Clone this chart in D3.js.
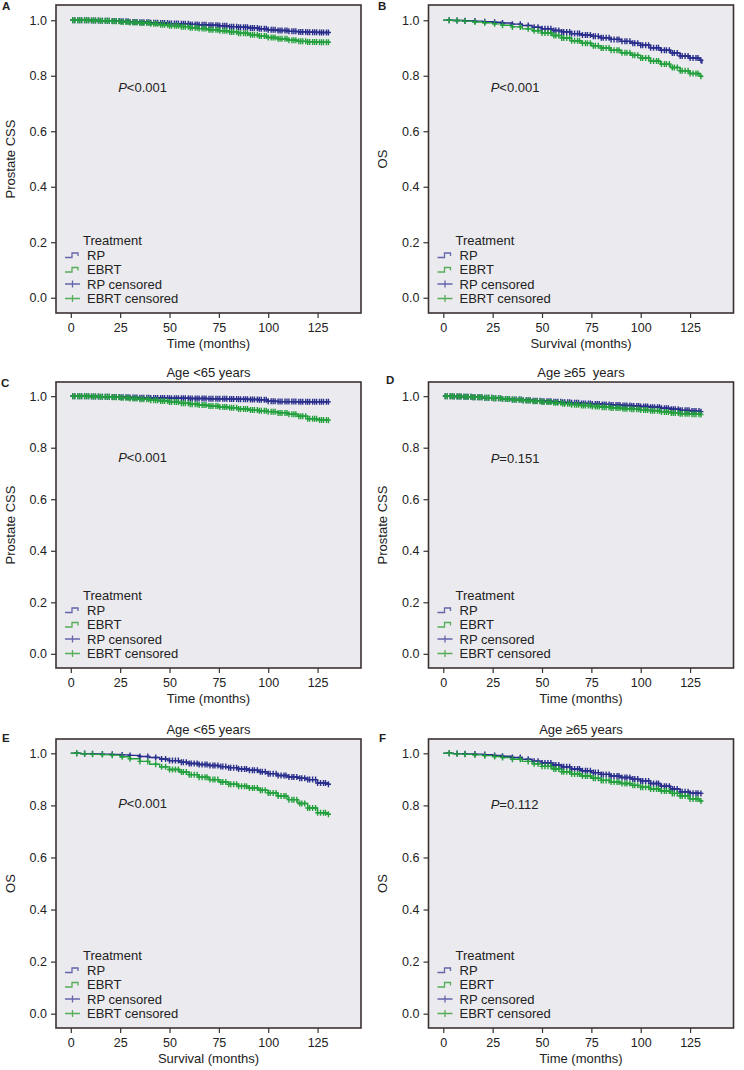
<!DOCTYPE html>
<html><head><meta charset="utf-8">
<script src="https://cdn.jsdelivr.net/npm/d3@7"></script>
<style>body{margin:0;background:#fff} text{font-family:"Liberation Sans", Arial, sans-serif;fill:#222}</style>
</head><body><svg id="c" width="744" height="1070"></svg>
<script>
// ---------------- data ----------------
const months = [0,5,10,15,20,25,30,35,40,45,50,55,60,65,70,75,80,85,90,95,100,105,110,115,120,125,130,131];

const rpA   = [1.000,1.000,0.999,0.998,0.997,0.996,0.994,0.993,0.991,0.990,0.988,0.987,0.985,0.984,0.982,0.980,0.977,0.975,0.972,0.969,0.966,0.963,0.960,0.958,0.957,0.956,0.956,0.955];
const ebrtA = [1.000,1.000,0.999,0.998,0.996,0.994,0.992,0.990,0.987,0.984,0.980,0.977,0.973,0.970,0.966,0.962,0.958,0.953,0.948,0.943,0.938,0.933,0.928,0.924,0.922,0.921,0.921,0.920];
const rpB   = [1.000,0.999,0.998,0.997,0.995,0.993,0.990,0.986,0.981,0.975,0.969,0.963,0.958,0.952,0.947,0.942,0.937,0.931,0.924,0.917,0.910,0.901,0.892,0.882,0.871,0.864,0.856,0.843];
const ebrtB = [1.000,0.999,0.997,0.994,0.991,0.987,0.982,0.976,0.969,0.962,0.954,0.945,0.936,0.926,0.917,0.908,0.900,0.892,0.883,0.874,0.864,0.853,0.842,0.830,0.818,0.808,0.798,0.795];
const rpC   = [1.000,1.000,0.999,0.998,0.997,0.996,0.995,0.994,0.993,0.993,0.992,0.992,0.991,0.991,0.990,0.990,0.989,0.988,0.987,0.986,0.980,0.979,0.979,0.978,0.978,0.978,0.978,0.978];
const ebrtC = [1.000,1.000,0.999,0.998,0.996,0.994,0.991,0.988,0.984,0.981,0.977,0.973,0.969,0.966,0.962,0.958,0.955,0.950,0.946,0.943,0.940,0.935,0.930,0.922,0.912,0.908,0.907,0.907];
const rpD   = [1.000,0.999,0.998,0.996,0.994,0.992,0.989,0.987,0.984,0.982,0.980,0.978,0.976,0.974,0.972,0.970,0.968,0.966,0.964,0.962,0.960,0.957,0.953,0.949,0.945,0.942,0.940,0.940];
const ebrtD = [1.000,0.999,0.998,0.996,0.994,0.992,0.989,0.986,0.983,0.980,0.977,0.974,0.971,0.967,0.964,0.960,0.957,0.954,0.951,0.949,0.946,0.943,0.939,0.935,0.932,0.930,0.929,0.928];
const rpE   = [1.000,0.999,0.998,0.997,0.996,0.994,0.992,0.988,0.984,0.978,0.972,0.966,0.961,0.957,0.953,0.949,0.945,0.940,0.935,0.929,0.922,0.915,0.909,0.904,0.899,0.886,0.881,0.880];
const ebrtE = [1.000,0.998,0.996,0.995,0.993,0.987,0.979,0.969,0.958,0.948,0.938,0.928,0.918,0.908,0.899,0.890,0.881,0.874,0.867,0.858,0.848,0.836,0.822,0.807,0.790,0.772,0.766,0.765];
const rpF   = [1.000,0.999,0.998,0.997,0.995,0.992,0.989,0.984,0.977,0.970,0.963,0.955,0.948,0.940,0.933,0.926,0.919,0.913,0.907,0.901,0.894,0.884,0.874,0.863,0.852,0.847,0.846,0.845];
const ebrtF = [1.000,0.998,0.996,0.994,0.991,0.988,0.984,0.977,0.969,0.960,0.950,0.940,0.929,0.921,0.913,0.904,0.896,0.890,0.884,0.877,0.870,0.863,0.855,0.846,0.836,0.825,0.817,0.815];

// censoring times (months)
const censorDense  = [1,2,3.5,4.5,5.5,7,8,9,10.5,11.5,12.5,14,15,16,17.5,18.5,19.5,21,22,23,24.5,25.5,26.5,28,29,30,31.5,32.5,33.5,35,36,37,38.5,39.5,40.5,42,43,44,45.5,46.5,47.5,49,50,51,52.5,53.5,54.5,56,57,58,59.5,60.5,61.5,63,64,65,66.5,67.5,68.5,70,71,72,73.5,74.5,75.5,77,78,79,80.5,81.5,82.5,84,85,86,87.5,88.5,89.5,91,92,93,94.5,95.5,96.5,98,99,100,101.5,102.5,103.5,105,106,107,108.5,109.5,110.5,112,113,114,115.5,116.5,117.5,119,120,121,122.5,123.5,124.5,126,127,128,129.5,130.5];
const censorSparse = [3,7,11,16,21,26,30,35,39,43,46,48,50,51.5,53,54.5,56,57,58.5,60,61,62.5,64,65,66.5,68,69,70.5,72,73,74.5,76,77,78.5,80,81,82.5,84,85,86.5,88,89,90.5,92,93,94.5,96,97,98.5,100,101,102.5,104,105,106.5,108,109,110.5,112,113,114.5,116,117,118.5,120,121,122.5,124,125,126.5,128,129,130.5];

const xTicks = [0,25,50,75,100,125];
const yTicks = [0,0.2,0.4,0.6,0.8,1.0];
const legendTitle = "Treatment";
const legendLabels = ["RP","EBRT","RP censored","EBRT censored"];
const panelLetters = ["A","B","C","D","E","F"];
const panelTitles = ["","","Age <65 years","Age \u226565\u00a0 years","Age <65 years","Age \u226565 years"];
const yTitles = ["Prostate CSS","OS","Prostate CSS","Prostate CSS","OS","OS"];
const xTitles = ["Time (months)","Survival (months)","Time (months)","Time (months)","Survival (months)","Time (months)"];
const pLabels = ["<0.001","<0.001","<0.001","=0.151","<0.001","=0.112"];
const pY = [0.74,0.74,0.745,0.74,0.79,0.785];
const pX = 24;
const rpSeries = [rpA,rpB,rpC,rpD,rpE,rpF];
const ebrtSeries = [ebrtA,ebrtB,ebrtC,ebrtD,ebrtE,ebrtF];
const censorSets = [censorDense,censorSparse,censorDense,censorDense,censorSparse,censorSparse];

// ---------------- layout ----------------
const cols = [{l:56,r:361},{l:428.5,r:733.5}];
const rows = [{t:5,b:313},{t:382,b:668},{t:739,b:1028}];
const letterPos = [[2,10],[378,10],[1,387],[386,384],[2,742],[379,742]];
const blue = "#2a2e8c", green = "#22a03c";
const blueLeg = "#6466ac", greenLeg = "#55ad58";

const svg = d3.select("#c");

for (let i=0;i<6;i++){
  const c = cols[i%2], r = rows[Math.floor(i/2)];
  const x = d3.scaleLinear().domain([-7.5,147]).range([c.l,c.r]);
  const y = d3.scaleLinear().domain([-0.055,1.055]).range([r.b,r.t]);
  const g = svg.append("g");

  g.append("rect").attr("x",c.l).attr("y",r.t).attr("width",c.r-c.l).attr("height",r.b-r.t)
    .attr("fill","#ebeaee");

  // axes
  const ya = g.append("g").attr("transform",`translate(${c.l},0)`)
    .call(d3.axisLeft(y).tickValues(yTicks).tickFormat(d3.format(".1f")).tickSize(5).tickPadding(4));
  const xa = g.append("g").attr("transform",`translate(0,${r.b})`)
    .call(d3.axisBottom(x).tickValues(xTicks).tickSize(5).tickPadding(5));
  [ya,xa].forEach(a=>{
    a.select(".domain").remove();
    a.selectAll("line").attr("stroke","#333").attr("stroke-width",1.2);
    a.selectAll("text").attr("font-size",12.5).attr("fill","#222")
      .style("font-family",'"Liberation Sans", Arial, sans-serif');
  });

  // curves
  const line = d3.line().curve(d3.curveStepAfter).x((d,j)=>x(months[j])).y(d=>y(d));
  const series = [{v:rpSeries[i],col:blue},{v:ebrtSeries[i],col:green}];
  series.forEach(s=>{
    g.append("path").attr("d",line(s.v)).attr("fill","none").attr("stroke",s.col).attr("stroke-width",1.4);
  });
  series.forEach(s=>{
    const last = months[months.length-1];
    const pts = censorSets[i].filter(t=>t<=last).map(t=>{
      const k = d3.bisectRight(months,t)-1; return [t,s.v[k]];
    });
    g.append("g").selectAll("path").data(pts).join("path")
      .attr("transform",d=>`translate(${x(d[0])},${y(d[1])})`)
      .attr("d","M-2.5,0H2.5M0,-3V3").attr("stroke",s.col).attr("stroke-width",1.4).attr("fill","none");
  });

  // frame
  g.append("rect").attr("x",c.l).attr("y",r.t).attr("width",c.r-c.l).attr("height",r.b-r.t)
    .attr("fill","none").attr("stroke","#3b3131").attr("stroke-width",1.6);

  // P value
  const pt = g.append("text").attr("x",x(pX)).attr("y",y(pY[i])).attr("font-size",13);
  pt.append("tspan").attr("font-style","italic").text("P");
  pt.append("tspan").text(pLabels[i]);

  // legend
  const lb = r.b-10, sp = 14.5;
  g.append("text").attr("x",c.l+27).attr("y",lb-4*sp).attr("font-size",13).text(legendTitle);
  legendLabels.forEach((lab,k)=>{
    const by = lb-(3-k)*sp, cy = by-4.5;
    const col = k%2===0 ? blueLeg : greenLeg;
    if (k<2){
      g.append("path").attr("d",`M${c.l+9},${cy+2.5}H${c.l+16}V${cy-2}H${c.l+22}V${cy+1}`)
        .attr("fill","none").attr("stroke",col).attr("stroke-width",1.3);
    } else {
      g.append("path").attr("d",`M${c.l+9},${cy}H${c.l+24}M${c.l+16.5},${cy-3.5}V${cy+3.5}`)
        .attr("fill","none").attr("stroke",col).attr("stroke-width",1.3);
    }
    g.append("text").attr("x",c.l+31).attr("y",by).attr("font-size",13).text(lab);
  });

  // titles
  if (panelTitles[i]) g.append("text").attr("x",(c.l+c.r)/2).attr("y",r.t-5)
    .attr("text-anchor","middle").attr("font-size",13).text(panelTitles[i]);
  g.append("text").attr("x",(c.l+c.r)/2).attr("y",r.b+35).attr("text-anchor","middle")
    .attr("font-size",13).text(xTitles[i]);
  g.append("text").attr("transform",`translate(${c.l-41.5},${(r.t+r.b)/2}) rotate(-90)`)
    .attr("text-anchor","middle").attr("font-size",13).text(yTitles[i]);
  g.append("text").attr("x",letterPos[i][0]).attr("y",letterPos[i][1])
    .attr("font-size",11.5).attr("font-weight","bold").text(panelLetters[i]);
}
</script></body></html>
